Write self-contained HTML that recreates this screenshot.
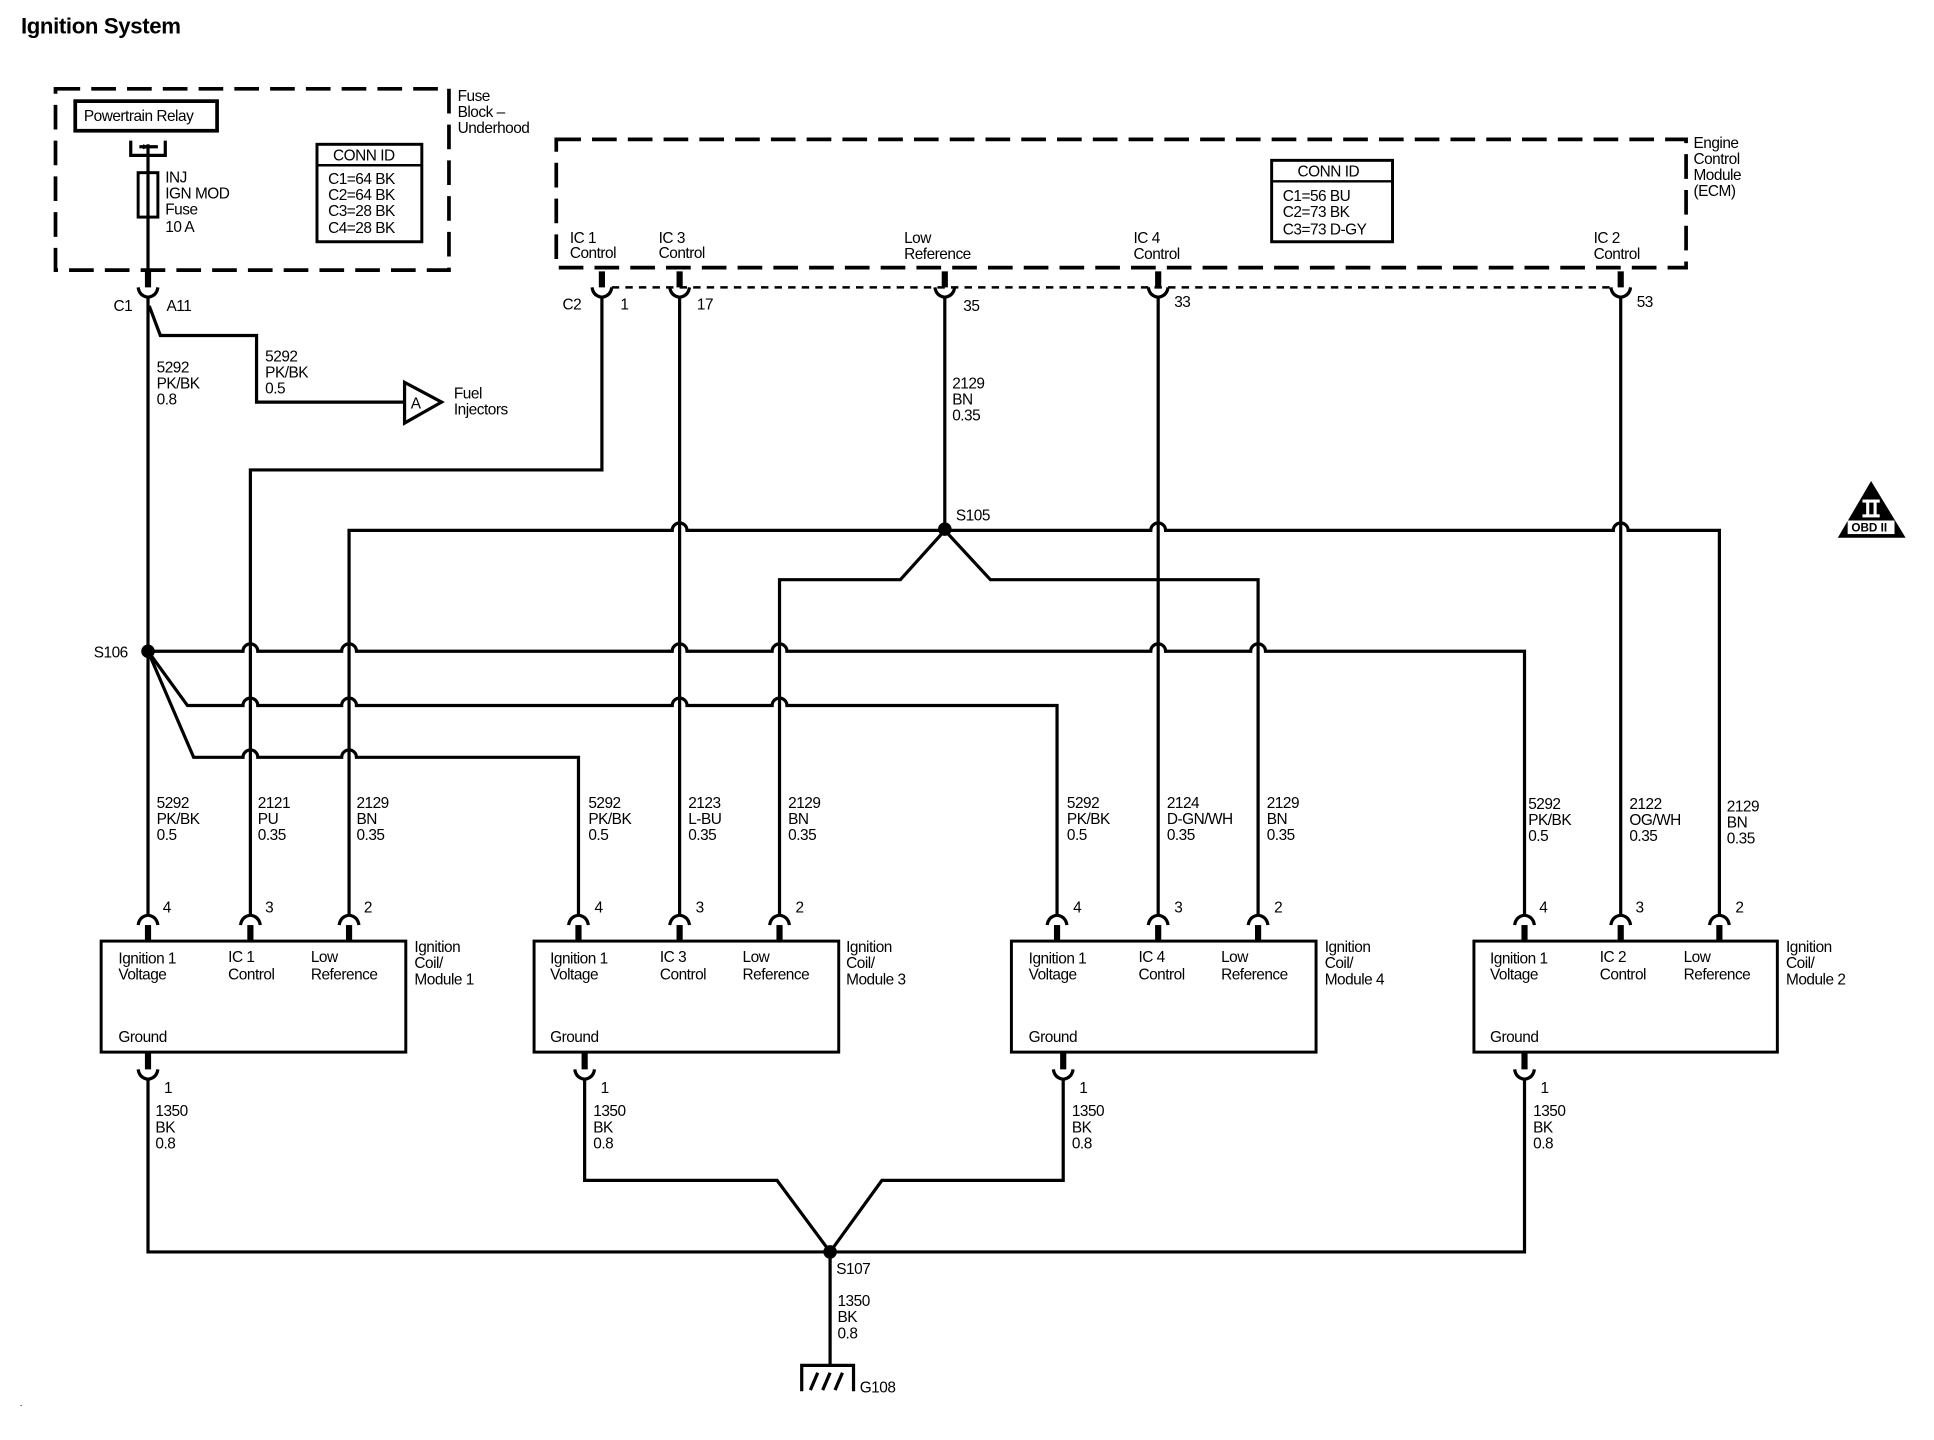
<!DOCTYPE html>
<html><head><meta charset="utf-8"><style>
html,body{margin:0;padding:0;background:#fff;}
svg{display:block;}
text{font-family:"Liberation Sans",sans-serif;font-size:12.5px;fill:#000;letter-spacing:-0.4px;}
.w{stroke:#000;stroke-width:2.6;fill:none;}
.d{stroke:#000;stroke-width:3;fill:none;stroke-dasharray:20 9;}
.t{stroke:#000;stroke-width:2;fill:none;stroke-dasharray:6 5;}
.b{stroke:#000;stroke-width:2.4;fill:#fff;}
</style></head><body>
<svg width="1934" height="1440" viewBox="0 0 1568 1167" preserveAspectRatio="xMinYMin meet" xmlns="http://www.w3.org/2000/svg">
<defs>
<g id="cu"><path class="w" d="M-8,-8 Q-7,-1 0,0 Q7,-1 8,-8"/><rect x="-2.5" y="-21" width="5" height="13"/></g>
<g id="cd"><path class="w" d="M-8,8 Q-7,1 0,0 Q7,1 8,8"/><rect x="-2.5" y="8" width="5" height="13"/></g>
</defs>
<text x="17" y="27" style="font-size:18px;font-weight:bold;letter-spacing:-0.3px">Ignition System</text>

<rect class="d" x="45" y="72" width="319" height="147"/>
<text x="371" y="82">Fuse</text><text x="371" y="95">Block –</text><text x="371" y="108">Underhood</text>
<rect x="61" y="82" width="115" height="24" fill="none" stroke="#000" stroke-width="3"/>
<text x="68" y="98" style="font-size:12.5px">Powertrain Relay</text>
<path class="w" d="M106,114 V126 H134 V114"/>
<path class="w" d="M113,119 H128"/><path d="M116,117 L122,119 L116,121Z"/>
<line class="w" x1="120" y1="117" x2="120" y2="140"/>
<rect class="b" x="112" y="140" width="16" height="36"/>
<line class="w" x1="120" y1="140" x2="120" y2="176"/>
<text x="134" y="148">INJ</text><text x="134" y="161">IGN MOD</text><text x="134" y="174">Fuse</text><text x="134" y="188">10 A</text>
<rect x="257" y="117" width="85" height="79" fill="none" stroke="#000" stroke-width="2.4"/>
<line x1="257" y1="134" x2="342" y2="134" stroke="#000" stroke-width="2"/>
<text x="270" y="130">CONN ID</text>
<text x="266" y="149">C1=64 BK</text><text x="266" y="162">C2=64 BK</text><text x="266" y="175">C3=28 BK</text><text x="266" y="189">C4=28 BK</text>
<line class="w" x1="120" y1="176" x2="120" y2="219"/>
<use href="#cu" x="120" y="241"/>
<text x="92" y="252">C1</text><text x="135" y="252">A11</text>
<text x="127" y="302">5292</text><text x="127" y="315">PK/BK</text><text x="127" y="328">0.8</text>
<path class="w" d="M121,248 L130,272 H208 V326 H328"/>
<path class="w" d="M328,310 L358,326 L328,343Z" fill="#fff"/>
<text x="333" y="331">A</text>
<text x="215" y="293">5292</text><text x="215" y="306">PK/BK</text><text x="215" y="319">0.5</text>
<text x="368" y="323">Fuel</text><text x="368" y="336">Injectors</text>

<rect class="d" x="451" y="113" width="916" height="104"/>
<text x="1373" y="120">Engine</text><text x="1373" y="133">Control</text><text x="1373" y="146">Module</text><text x="1373" y="159">(ECM)</text>
<rect x="1031" y="130" width="98" height="66" fill="none" stroke="#000" stroke-width="2.4"/>
<line x1="1031" y1="147" x2="1129" y2="147" stroke="#000" stroke-width="2"/>
<text x="1052" y="143">CONN ID</text>
<text x="1040" y="163">C1=56 BU</text><text x="1040" y="176">C2=73 BK</text><text x="1040" y="190">C3=73 D-GY</text>
<text x="462" y="197">IC 1</text><text x="462" y="209">Control</text>
<text x="534" y="197">IC 3</text><text x="534" y="209">Control</text>
<text x="733" y="197">Low</text><text x="733" y="210">Reference</text>
<text x="919" y="197">IC 4</text><text x="919" y="210">Control</text>
<text x="1292" y="197">IC 2</text><text x="1292" y="210">Control</text>
<line class="t" x1="496" y1="233" x2="1306" y2="233"/>
<use href="#cu" x="488" y="241"/><use href="#cu" x="551" y="241"/><use href="#cu" x="766" y="241"/><use href="#cu" x="939" y="241"/><use href="#cu" x="1314" y="241"/>
<text x="456" y="251">C2</text><text x="503" y="251">1</text><text x="565" y="251">17</text><text x="781" y="252">35</text><text x="952" y="249">33</text><text x="1327" y="249">53</text>
<text x="772" y="315">2129</text><text x="772" y="328">BN</text><text x="772" y="341">0.35</text>

<path class="w" d="M488,241 V381 H203 V742"/>
<path class="w" d="M551,241 V742"/>
<path class="w" d="M766,241 V428"/>
<path class="w" d="M939,241 V742"/>
<path class="w" d="M1314,241 V742"/>
<path class="w" d="M120,241 V742"/>
<path class="w" d="M283,742 V430 H545 a6,6 0 0 1 12,0 H933 a6,6 0 0 1 12,0 H1308 a6,6 0 0 1 12,0 H1394 V742"/>
<path class="w" d="M632,742 V470 H730 L766,430 L803,470 H1020 V742"/>
<circle cx="766" cy="429" r="5.5"/>
<text x="775" y="422">S105</text>
<path class="w" d="M120,528 H197 a6,6 0 0 1 12,0 H277 a6,6 0 0 1 12,0 H545 a6,6 0 0 1 12,0 H626 a6,6 0 0 1 12,0 H933 a6,6 0 0 1 12,0 H1014 a6,6 0 0 1 12,0 H1236 V742"/>
<path class="w" d="M120,528 L152,572 H197 a6,6 0 0 1 12,0 H277 a6,6 0 0 1 12,0 H545 a6,6 0 0 1 12,0 H626 a6,6 0 0 1 12,0 H857 V742"/>
<path class="w" d="M120,528 L157,614 H197 a6,6 0 0 1 12,0 H277 a6,6 0 0 1 12,0 H469 V742"/>
<circle cx="120" cy="528" r="5.5"/>
<text x="76" y="533">S106</text>

<g>
<text x="127" y="655">5292</text><text x="127" y="668">PK/BK</text><text x="127" y="681">0.5</text>
<text x="209" y="655">2121</text><text x="209" y="668">PU</text><text x="209" y="681">0.35</text>
<text x="289" y="655">2129</text><text x="289" y="668">BN</text><text x="289" y="681">0.35</text>
<text x="477" y="655">5292</text><text x="477" y="668">PK/BK</text><text x="477" y="681">0.5</text>
<text x="558" y="655">2123</text><text x="558" y="668">L-BU</text><text x="558" y="681">0.35</text>
<text x="639" y="655">2129</text><text x="639" y="668">BN</text><text x="639" y="681">0.35</text>
<text x="865" y="655">5292</text><text x="865" y="668">PK/BK</text><text x="865" y="681">0.5</text>
<text x="946" y="655">2124</text><text x="946" y="668">D-GN/WH</text><text x="946" y="681">0.35</text>
<text x="1027" y="655">2129</text><text x="1027" y="668">BN</text><text x="1027" y="681">0.35</text>
<text x="1239" y="656">5292</text><text x="1239" y="669">PK/BK</text><text x="1239" y="682">0.5</text>
<text x="1321" y="656">2122</text><text x="1321" y="669">OG/WH</text><text x="1321" y="682">0.35</text>
<text x="1400" y="658">2129</text><text x="1400" y="671">BN</text><text x="1400" y="684">0.35</text>
</g>

<g>
<use href="#cd" x="120" y="742"/><use href="#cd" x="203" y="742"/><use href="#cd" x="283" y="742"/>
<use href="#cd" x="469" y="742"/><use href="#cd" x="551" y="742"/><use href="#cd" x="632" y="742"/>
<use href="#cd" x="857" y="742"/><use href="#cd" x="939" y="742"/><use href="#cd" x="1020" y="742"/>
<use href="#cd" x="1236" y="742"/><use href="#cd" x="1314" y="742"/><use href="#cd" x="1394" y="742"/>
<text x="132" y="740">4</text><text x="215" y="740">3</text><text x="295" y="740">2</text>
<text x="482" y="740">4</text><text x="564" y="740">3</text><text x="645" y="740">2</text>
<text x="870" y="740">4</text><text x="952" y="740">3</text><text x="1033" y="740">2</text>
<text x="1248" y="740">4</text><text x="1326" y="740">3</text><text x="1407" y="740">2</text>
</g>

<g>
<rect class="b" x="82" y="763" width="247" height="90"/>
<text x="96" y="781">Ignition 1</text><text x="96" y="794">Voltage</text>
<text x="185" y="780">IC 1</text><text x="185" y="794">Control</text>
<text x="252" y="780">Low</text><text x="252" y="794">Reference</text>
<text x="96" y="845">Ground</text>
<text x="336" y="772">Ignition</text><text x="336" y="785">Coil/</text><text x="336" y="798">Module 1</text>

<rect class="b" x="433" y="763" width="247" height="90"/>
<text x="446" y="781">Ignition 1</text><text x="446" y="794">Voltage</text>
<text x="535" y="780">IC 3</text><text x="535" y="794">Control</text>
<text x="602" y="780">Low</text><text x="602" y="794">Reference</text>
<text x="446" y="845">Ground</text>
<text x="686" y="772">Ignition</text><text x="686" y="785">Coil/</text><text x="686" y="798">Module 3</text>

<rect class="b" x="820" y="763" width="247" height="90"/>
<text x="834" y="781">Ignition 1</text><text x="834" y="794">Voltage</text>
<text x="923" y="780">IC 4</text><text x="923" y="794">Control</text>
<text x="990" y="780">Low</text><text x="990" y="794">Reference</text>
<text x="834" y="845">Ground</text>
<text x="1074" y="772">Ignition</text><text x="1074" y="785">Coil/</text><text x="1074" y="798">Module 4</text>

<rect class="b" x="1195" y="763" width="246" height="90"/>
<text x="1208" y="781">Ignition 1</text><text x="1208" y="794">Voltage</text>
<text x="1297" y="780">IC 2</text><text x="1297" y="794">Control</text>
<text x="1365" y="780">Low</text><text x="1365" y="794">Reference</text>
<text x="1208" y="845">Ground</text>
<text x="1448" y="772">Ignition</text><text x="1448" y="785">Coil/</text><text x="1448" y="798">Module 2</text>
</g>

<use href="#cu" x="120" y="875"/><use href="#cu" x="474" y="875"/><use href="#cu" x="862" y="875"/><use href="#cu" x="1236" y="875"/>
<text x="133" y="886">1</text><text x="487" y="886">1</text><text x="875" y="886">1</text><text x="1249" y="886">1</text>
<text x="126" y="905">1350</text><text x="126" y="918">BK</text><text x="126" y="931">0.8</text>
<text x="481" y="905">1350</text><text x="481" y="918">BK</text><text x="481" y="931">0.8</text>
<text x="869" y="905">1350</text><text x="869" y="918">BK</text><text x="869" y="931">0.8</text>
<text x="1243" y="905">1350</text><text x="1243" y="918">BK</text><text x="1243" y="931">0.8</text>
<path class="w" d="M120,875 V1015 H1236 V875"/>
<path class="w" d="M474,875 V957 H630 L673,1015 L715,957 H862 V875"/>
<circle cx="673" cy="1015" r="5.5"/>
<path class="w" d="M673,1015 V1108"/>
<text x="678" y="1033">S107</text>
<text x="679" y="1059">1350</text><text x="679" y="1072">BK</text><text x="679" y="1085">0.8</text>
<path class="w" d="M650,1128 V1107 H692 V1128"/>
<path class="w" d="M657,1127 L663,1113 M667,1127 L673,1113 M677,1127 L683,1113"/>
<text x="697" y="1129">G108</text>

<path d="M1517,390 L1545,436 L1490,436Z"/>
<rect x="1510" y="405" width="14" height="2.5" fill="#fff"/><rect x="1510" y="417" width="14" height="2.5" fill="#fff"/>
<rect x="1513" y="405" width="2.5" height="14" fill="#fff"/><rect x="1519" y="405" width="2.5" height="14" fill="#fff"/>
<rect x="1498" y="422" width="38" height="11" fill="#fff"/>
<text x="1501" y="431" style="font-size:9.5px;font-weight:bold;letter-spacing:0">OBD II</text>
<text x="16" y="1140" style="font-size:8px">.</text>
</svg>
</body></html>
